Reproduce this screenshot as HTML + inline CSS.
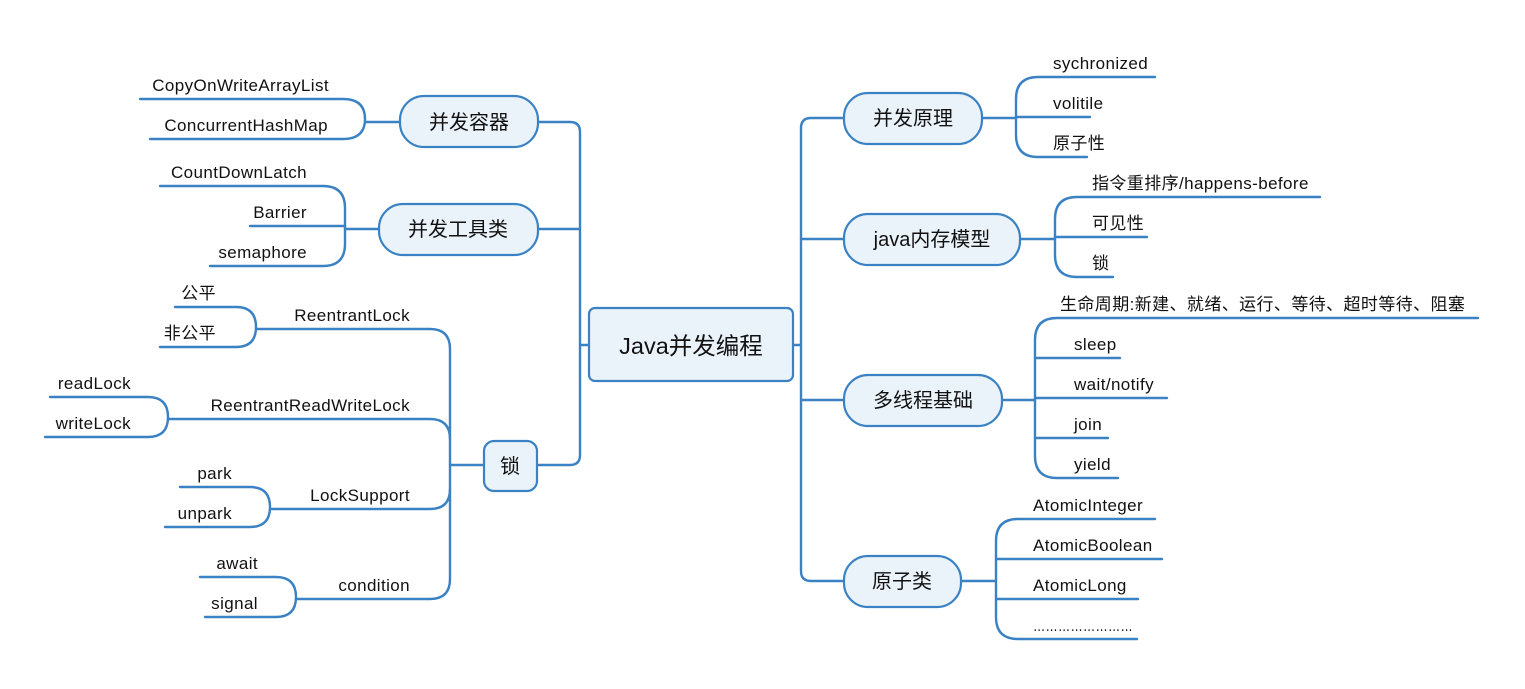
<!DOCTYPE html>
<html><head><meta charset="utf-8"><style>
html,body{margin:0;padding:0;background:#fff;}
svg{display:block;}
text{font-family:"Liberation Sans","Noto Sans CJK SC",sans-serif;fill:#111;}
.l{font-size:17px;letter-spacing:0.4px;}
.n{font-size:20px;}
</style></head><body>
<svg width="1525" height="689" viewBox="0 0 1525 689" xmlns="http://www.w3.org/2000/svg">
<g fill="none" stroke="#3a82c4" stroke-width="2.4" stroke-linecap="round">
<path d="M793 345 H801"/>
<path d="M844 118 H811 Q801 118 801 128 V571 Q801 581 811 581 H844"/>
<path d="M801 239 H844 M801 400 H844"/>
<path d="M589 345 H580"/>
<path d="M538 122 H570 Q580 122 580 132 V455 Q580 465 570 465 H537"/>
<path d="M538 229 H580"/>
<path d="M982 118 H1016"/>
<path d="M1155 77 H1038 Q1016 77 1016 99 V135 Q1016 157 1038 157 H1087"/>
<path d="M1016 117 H1090"/>
<path d="M1020 239 H1055"/>
<path d="M1320 197 H1077 Q1055 197 1055 219 V255 Q1055 277 1077 277 H1113"/>
<path d="M1055 237 H1147"/>
<path d="M1002 400 H1035"/>
<path d="M1478 318 H1057 Q1035 318 1035 340 V456 Q1035 478 1057 478 H1118"/>
<path d="M1035 358 H1120 M1035 398 H1167 M1035 438 H1108"/>
<path d="M961 581 H996"/>
<path d="M1155 519 H1018 Q996 519 996 541 V617 Q996 639 1018 639 H1137"/>
<path d="M996 559 H1162 M996 599 H1138"/>
<path d="M400 122 H365"/>
<path d="M140 99 H343 Q365 99 365 119 V119 Q365 139 343 139 H150"/>
<path d="M379 229 H345"/>
<path d="M160 186 H323 Q345 186 345 208 V244 Q345 266 323 266 H210"/>
<path d="M250 226 H345"/>
<path d="M484 465 H450"/>
<path d="M256 329 H430 Q450 329 450 349 V579 Q450 599 430 599 H296"/>
<path d="M168 419 H430 Q450 419 450 439 M270 509 H430 Q450 509 450 489"/>
<path d="M175 307 H236 Q256 307 256 327 V327 Q256 347 236 347 H160"/>
<path d="M50 397 H148 Q168 397 168 417 V417 Q168 437 148 437 H45"/>
<path d="M180 487 H250 Q270 487 270 507 V507 Q270 527 250 527 H165"/>
<path d="M200 577 H276 Q296 577 296 597 V597 Q296 617 276 617 H205"/>
</g>
<g fill="#eaf2fa" stroke="#3a82c4" stroke-width="2.2">
<rect x="589" y="308" width="204" height="73" rx="6"/>
<rect x="844" y="93" width="138" height="51" rx="24"/>
<rect x="844" y="214" width="176" height="51" rx="24"/>
<rect x="844" y="375" width="158" height="51" rx="24"/>
<rect x="844" y="556" width="117" height="51" rx="24"/>
<rect x="400" y="96" width="138" height="51" rx="24"/>
<rect x="379" y="204" width="159" height="51" rx="24"/>
<rect x="484" y="441" width="53" height="50" rx="10"/>
</g>
<text x="691" y="354" font-size="23.5" text-anchor="middle">Java并发编程</text>
<g class="n" text-anchor="middle">
<text x="913" y="125">并发原理</text>
<text x="932" y="246">java内存模型</text>
<text x="923" y="407">多线程基础</text>
<text x="902" y="588">原子类</text>
<text x="469" y="129">并发容器</text>
<text x="458" y="236">并发工具类</text>
<text x="510" y="473">锁</text>
</g>
<g class="l">
<text x="1053" y="69">sychronized</text>
<text x="1053" y="109">volitile</text>
<text x="1053" y="149">原子性</text>
<text x="1092" y="189">指令重排序/happens-before</text>
<text x="1092" y="229">可见性</text>
<text x="1092" y="269">锁</text>
<text x="1060" y="310">生命周期:新建、就绪、运行、等待、超时等待、阻塞</text>
<text x="1074" y="350">sleep</text>
<text x="1074" y="390">wait/notify</text>
<text x="1074" y="430">join</text>
<text x="1074" y="470">yield</text>
<text x="1033" y="511">AtomicInteger</text>
<text x="1033" y="551">AtomicBoolean</text>
<text x="1033" y="591">AtomicLong</text>
<text x="1033" y="631" textLength="100" lengthAdjust="spacingAndGlyphs">……………………</text>
</g>
<g class="l" text-anchor="end">
<text x="329" y="91">CopyOnWriteArrayList</text>
<text x="328" y="131">ConcurrentHashMap</text>
<text x="307" y="178">CountDownLatch</text>
<text x="307" y="218">Barrier</text>
<text x="307" y="258">semaphore</text>
<text x="410" y="321">ReentrantLock</text>
<text x="410" y="411">ReentrantReadWriteLock</text>
<text x="410" y="501">LockSupport</text>
<text x="410" y="591">condition</text>
<text x="216" y="299">公平</text>
<text x="216" y="339">非公平</text>
<text x="131" y="389">readLock</text>
<text x="131" y="429">writeLock</text>
<text x="232" y="479">park</text>
<text x="232" y="519">unpark</text>
<text x="258" y="569">await</text>
<text x="258" y="609">signal</text>
</g>
</svg>
</body></html>
